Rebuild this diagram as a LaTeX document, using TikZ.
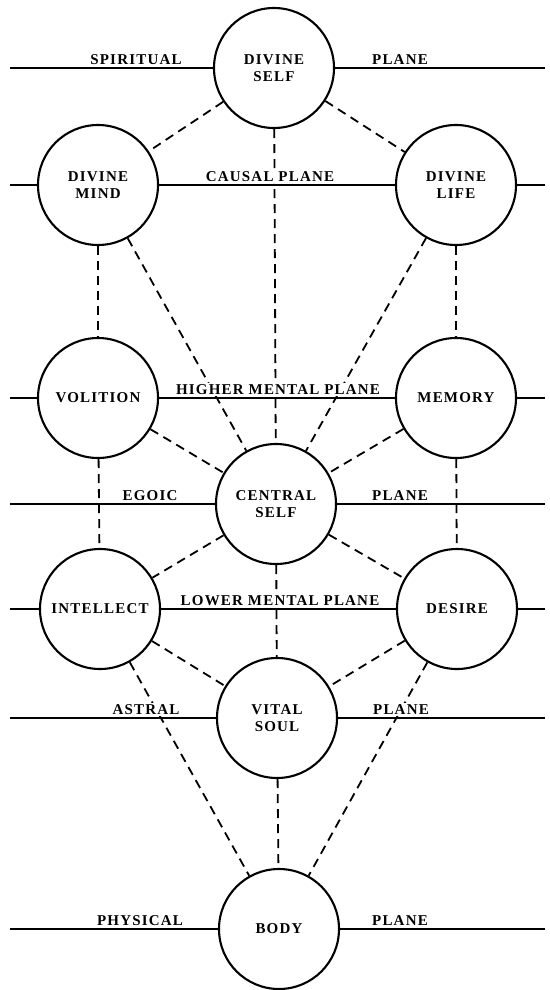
\documentclass[tikz,border=0pt]{standalone}
\usepackage{fontspec}
\newfontfamily\plateFont[LetterSpace=8]{Liberation Serif}
\usepackage{tikz}
\usetikzlibrary{backgrounds}

\begin{document}
\begin{tikzpicture}[
			x=1pt, y=-1pt,
			% Node styles
			soulNode/.style={circle, fill=white, draw=black, line width=2.1pt, inner sep=0pt, minimum size=120pt, align=center, font=\plateFont\fontsize{15}{17}\selectfont\bfseries},
			planeLabel/.style={anchor=base, fill=white, inner sep=1.5pt, font=\plateFont\fontsize{15}{17}\selectfont\bfseries},
			% Line styles
			planeLine/.style={line width=2pt},
			linkLine/.style={line width=1.8pt, dash pattern=on 9pt off 6pt}
			]
			
			\useasboundingbox (0,0) rectangle (549,990);
			
			% =========================================================
			% 1. THE CENTRES (circles)
			% =========================================================
			
			\node[soulNode] (divSelf) at (274,68) {DIVINE\\SELF};
			
			\node[soulNode] (divMind) at (98,185) {DIVINE\\MIND};
			\node[soulNode] (divLife) at (456,185) {DIVINE\\LIFE};
			
			\node[soulNode] (volition) at (98,398) {VOLITION};
			\node[soulNode] (memory) at (456,398) {MEMORY};
			
			\node[soulNode] (centSelf) at (276,504) {CENTRAL\\SELF};
			
			\node[soulNode] (intellect) at (100,609) {INTELLECT};
			\node[soulNode] (desire) at (457,609) {DESIRE};
			
			\node[soulNode] (vitSoul) at (277,718) {VITAL\\SOUL};
			
			\node[soulNode] (body) at (279,929) {BODY};
			
			% =========================================================
			% 2. THE PLANES (solid lines)
			% =========================================================
			
			\coordinate (spiL) at (10,68);  \coordinate (spiR) at (545,68);
			\coordinate (cauL) at (10,185); \coordinate (cauR) at (545,185);
			\coordinate (higL) at (10,398); \coordinate (higR) at (545,398);
			\coordinate (egoL) at (10,504); \coordinate (egoR) at (545,504);
			\coordinate (lowL) at (10,609); \coordinate (lowR) at (545,609);
			\coordinate (astL) at (10,718); \coordinate (astR) at (545,718);
			\coordinate (phyL) at (10,929); \coordinate (phyR) at (545,929);
			
			\begin{scope}[on background layer]
				% Spiritual
				\draw[planeLine] (spiL) -- (divSelf.west);
				\draw[planeLine] (divSelf.east) -- (spiR);
				% Causal
				\draw[planeLine] (cauL) -- (divMind.west);
				\draw[planeLine] (divMind.east) -- (divLife.west);
				\draw[planeLine] (divLife.east) -- (cauR);
				% Higher mental
				\draw[planeLine] (higL) -- (volition.west);
				\draw[planeLine] (volition.east) -- (memory.west);
				\draw[planeLine] (memory.east) -- (higR);
				% Egoic
				\draw[planeLine] (egoL) -- (centSelf.west);
				\draw[planeLine] (centSelf.east) -- (egoR);
				% Lower mental
				\draw[planeLine] (lowL) -- (intellect.west);
				\draw[planeLine] (intellect.east) -- (desire.west);
				\draw[planeLine] (desire.east) -- (lowR);
				% Astral
				\draw[planeLine] (astL) -- (vitSoul.west);
				\draw[planeLine] (vitSoul.east) -- (astR);
				% Physical
				\draw[planeLine] (phyL) -- (body.west);
				\draw[planeLine] (body.east) -- (phyR);
			\end{scope}
			
			% =========================================================
			% 3. THE LINKS (dashed)
			% =========================================================
			
			\draw[linkLine] (divSelf) -- (divMind);
			\draw[linkLine] (divSelf) -- (divLife);
			\draw[linkLine] (divSelf) -- (centSelf);
			
			\draw[linkLine] (divMind) -- (volition);
			\draw[linkLine] (divMind) -- (centSelf);
			\draw[linkLine] (divLife) -- (memory);
			\draw[linkLine] (divLife) -- (centSelf);
			
			\draw[linkLine] (volition) -- (centSelf);
			\draw[linkLine] (memory) -- (centSelf);
			\draw[linkLine] (volition) -- (intellect);
			\draw[linkLine] (memory) -- (desire);
			
			\draw[linkLine] (centSelf) -- (intellect);
			\draw[linkLine] (centSelf) -- (desire);
			\draw[linkLine] (centSelf) -- (vitSoul);
			
			\draw[linkLine] (intellect) -- (vitSoul);
			\draw[linkLine] (desire) -- (vitSoul);
			\draw[linkLine] (intellect) -- (body);
			\draw[linkLine] (desire) -- (body);
			\draw[linkLine] (vitSoul) -- (body);
			
			% =========================================================
			% 4. PLANE NAMES (on top of the links)
			% =========================================================
			
			\node[planeLabel] (lblSpi) at (136,64) {SPIRITUAL};
			\node[planeLabel] (lblSpiP) at (400,64) {PLANE};
			\node[planeLabel] (lblCau) at (270,181) {CAUSAL PLANE};
			\node[planeLabel] (lblHig) at (278,394) {HIGHER MENTAL PLANE};
			\node[planeLabel] (lblEgo) at (150,500) {EGOIC};
			\node[planeLabel] (lblEgoP) at (400,500) {PLANE};
			\node[planeLabel] (lblLow) at (280,605) {LOWER MENTAL PLANE};
			\node[planeLabel] (lblAst) at (146,714) {ASTRAL};
			\node[planeLabel] (lblAstP) at (401,714) {PLANE};
			\node[planeLabel] (lblPhy) at (140,925) {PHYSICAL};
			\node[planeLabel] (lblPhyP) at (400,925) {PLANE};
			
		\end{tikzpicture}
\end{document}
